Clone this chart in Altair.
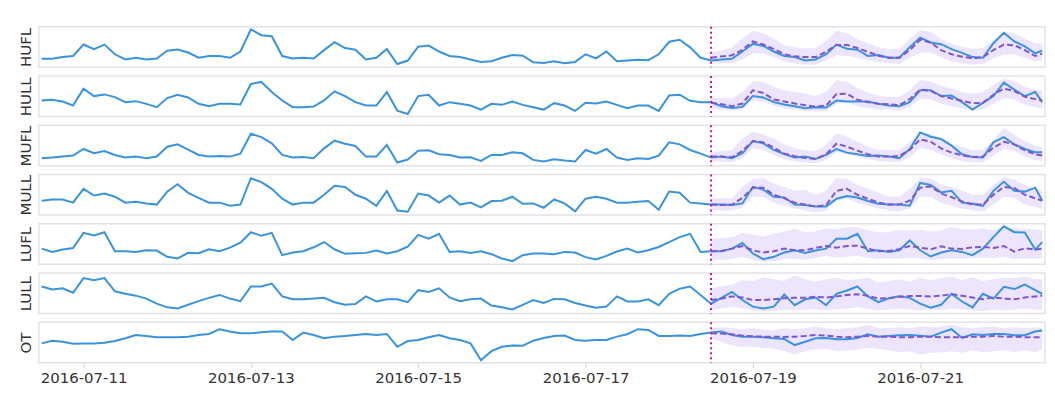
import altair as alt
import pandas as pd

# ---------------- data (unitless) ----------------
NAMES = ["HUFL", "HULL", "MUFL", "MULL", "LUFL", "LULL", "OT"]
START = "2016-07-10 12:00"
ACT_HOURS = list(range(0, 286, 3)) + [287]          # hours after START, observed series
FC_HOURS = [192] + list(range(195, 286, 3)) + [287]  # hours after START, forecast
FC_START_HOUR = 192
TICK_DAYS = [11, 13, 15, 17, 19, 21]                 # July 2016

HUFL = [25, 25, 30, 33, 66, 53, 66, 38, 23, 28, 23, 26, 48, 52, 43, 28,
        33, 33, 28, 46, 110, 93, 90, 33, 26, 28, 26, 50, 73, 56, 51, 23,
        28, 53, 10, 20, 60, 63, 46, 33, 30, 23, 16, 18, 28, 36, 34, 15, 13,
        18, 12, 16, 38, 26, 46, 18, 20, 22, 21, 38, 74, 80, 58, 28, 20,
        23, 25, 46, 68, 62, 46, 33, 30, 20, 23, 38, 66, 54, 51, 33, 36,
        28, 28, 58, 86, 72, 67, 53, 42, 30, 28, 70, 100, 75, 61, 41, 48]
HULL = [50, 52, 47, 35, 85, 63, 68, 60, 45, 48, 40, 30, 57, 67, 59, 40,
        33, 40, 40, 38, 99, 105, 75, 50, 30, 30, 32, 50, 77, 63, 45, 35,
        35, 75, 20, 10, 63, 67, 35, 45, 40, 35, 23, 40, 37, 47, 37, 30, 23,
        42, 35, 19, 43, 41, 47, 37, 27, 35, 35, 19, 65, 67, 49, 45, 45,
        33, 28, 31, 63, 59, 45, 38, 33, 27, 30, 29, 50, 47, 47, 47, 40,
        35, 33, 45, 80, 80, 63, 65, 45, 23, 43, 63, 103, 82, 63, 75, 45]
MUFL = [22, 24, 27, 30, 50, 37, 44, 32, 24, 27, 22, 27, 57, 64, 48, 32,
        27, 29, 27, 36, 96, 86, 67, 32, 24, 26, 22, 52, 75, 66, 59, 27,
        27, 62, 9, 18, 45, 46, 34, 32, 24, 25, 14, 32, 32, 40, 37, 17, 12,
        19, 15, 12, 47, 36, 50, 24, 17, 22, 20, 30, 70, 64, 47, 36, 24,
        27, 22, 37, 74, 67, 47, 35, 24, 27, 20, 32, 50, 39, 34, 29, 30,
        27, 22, 50, 100, 87, 80, 60, 34, 26, 24, 70, 86, 64, 50, 40, 40]
MULL = [43, 46, 46, 38, 73, 56, 61, 53, 38, 40, 36, 33, 66, 85, 63, 50,
        38, 38, 30, 33, 100, 90, 73, 48, 33, 38, 38, 58, 81, 78, 58, 48,
        30, 68, 18, 15, 61, 56, 38, 56, 33, 38, 26, 42, 43, 53, 35, 36, 25,
        46, 36, 16, 48, 53, 48, 38, 38, 40, 42, 20, 66, 63, 38, 36, 33,
        33, 32, 36, 78, 71, 53, 51, 33, 32, 28, 28, 48, 55, 51, 42, 35,
        33, 33, 30, 88, 83, 64, 68, 38, 35, 30, 68, 91, 68, 66, 76, 43]
LUFL = [45, 35, 42, 47, 93, 85, 95, 37, 37, 35, 40, 39, 20, 15, 32, 31,
        43, 37, 48, 63, 95, 84, 93, 25, 33, 37, 49, 65, 43, 29, 31, 32,
        39, 30, 37, 51, 87, 75, 90, 35, 37, 32, 37, 28, 15, 7, 25, 30, 30,
        28, 35, 33, 19, 12, 23, 36, 45, 33, 40, 50, 65, 80, 90, 35, 37,
        37, 45, 62, 30, 13, 20, 33, 40, 32, 39, 45, 75, 75, 90, 37, 40,
        35, 40, 70, 40, 21, 33, 40, 35, 25, 45, 80, 113, 95, 94, 42, 65]
LULL = [77, 69, 72, 60, 100, 94, 100, 64, 57, 52, 44, 30, 20, 17, 27, 37,
        46, 54, 44, 37, 77, 77, 85, 50, 42, 42, 44, 46, 34, 27, 29, 50,
        36, 42, 42, 34, 67, 62, 72, 47, 37, 42, 44, 25, 20, 14, 27, 40, 32,
        43, 42, 32, 25, 19, 22, 50, 36, 36, 42, 26, 57, 71, 77, 54, 30,
        46, 62, 40, 22, 17, 22, 55, 26, 42, 47, 26, 57, 66, 77, 50, 34,
        45, 50, 46, 30, 19, 27, 57, 36, 20, 57, 44, 76, 70, 82, 67, 57]
OT = [58, 66, 63, 57, 58, 58, 60, 65, 73, 83, 80, 76, 76, 76, 78, 83,
      86, 100, 93, 88, 88, 91, 93, 93, 68, 90, 83, 73, 78, 80, 83, 86,
      83, 86, 48, 65, 68, 76, 83, 73, 68, 58, 8, 35, 48, 52, 51, 66, 74,
      80, 81, 68, 66, 68, 68, 78, 85, 100, 98, 80, 80, 81, 80, 86, 90,
      93, 83, 78, 78, 76, 73, 71, 53, 63, 73, 74, 70, 70, 74, 85, 78,
      80, 82, 83, 81, 78, 90, 100, 74, 85, 83, 86, 86, 82, 82, 93, 96]

# forecast: median and band (lower / upper)
HUFL_MEAN = [28, 32, 35, 51, 75, 66, 53, 38, 32, 30, 30, 45, 65, 65, 56, 45, 34,
             28, 28, 50, 80, 72, 50, 38, 31, 26, 30, 50, 66, 64, 50, 33, 40]
HUFL_HI = [43, 48, 58, 83, 105, 98, 83, 63, 58, 55, 56, 76, 106, 98, 81, 70, 58,
           53, 53, 83, 108, 103, 83, 68, 60, 53, 56, 78, 103, 98, 83, 70, 68]
HUFL_LO = [16, 13, 12, 23, 40, 40, 30, 18, 11, 8, 8, 20, 35, 33, 28, 21, 16,
           13, 10, 28, 43, 43, 30, 18, 13, 8, 10, 26, 38, 38, 28, 18, 20]
HULL_MEAN = [43, 39, 33, 41, 80, 72, 53, 47, 41, 36, 31, 35, 69, 70, 52, 45, 40,
             39, 36, 54, 82, 79, 63, 56, 49, 42, 43, 67, 85, 78, 61, 54, 50]
HULL_HI = [57, 57, 55, 75, 107, 105, 90, 80, 75, 70, 63, 75, 110, 105, 87, 73, 65,
           60, 60, 80, 110, 107, 93, 85, 75, 70, 75, 95, 115, 107, 90, 80, 80]
HULL_LO = [27, 23, 20, 23, 50, 47, 35, 27, 23, 19, 17, 19, 40, 43, 33, 27, 23,
           23, 20, 30, 55, 53, 40, 33, 27, 20, 23, 40, 57, 53, 37, 30, 27]
MUFL_MEAN = [27, 27, 25, 44, 74, 70, 54, 36, 28, 23, 20, 34, 66, 57, 45, 34, 27,
             27, 29, 47, 79, 72, 52, 39, 31, 26, 27, 54, 72, 64, 46, 34, 30]
MUFL_HI = [40, 44, 47, 82, 102, 94, 82, 64, 52, 47, 44, 62, 97, 87, 72, 57, 47,
           47, 47, 72, 102, 97, 80, 64, 57, 47, 47, 77, 114, 92, 74, 60, 54]
MUFL_LO = [14, 12, 10, 22, 52, 47, 32, 20, 12, 10, 7, 17, 40, 34, 27, 20, 14,
           12, 10, 24, 54, 47, 34, 22, 14, 10, 10, 30, 50, 44, 27, 17, 14]
MULL_MEAN = [33, 32, 33, 50, 76, 76, 58, 49, 38, 33, 28, 32, 68, 73, 58, 48, 38,
             33, 33, 43, 76, 79, 61, 52, 41, 33, 33, 58, 78, 75, 58, 49, 43]
MULL_HI = [48, 50, 48, 78, 98, 100, 86, 78, 68, 70, 58, 68, 100, 98, 83, 73, 63,
           53, 53, 73, 100, 100, 83, 78, 68, 58, 58, 83, 103, 96, 83, 73, 68]
MULL_LO = [20, 18, 18, 26, 53, 53, 38, 30, 23, 18, 13, 18, 43, 48, 38, 30, 23,
           18, 16, 23, 53, 53, 38, 30, 23, 18, 16, 33, 53, 50, 33, 26, 23]
LUFL_MEAN = [37, 38, 45, 53, 40, 33, 37, 45, 40, 40, 47, 53, 48, 53, 54, 45, 37,
             38, 43, 53, 48, 43, 52, 45, 44, 49, 50, 47, 53, 36, 46, 42, 45]
LUFL_HI = [75, 77, 80, 93, 87, 83, 90, 97, 105, 95, 97, 107, 105, 110, 110, 100, 95,
           95, 103, 100, 103, 97, 100, 110, 105, 103, 107, 100, 113, 107, 105, 103, 100]
LUFL_LO = [13, 10, 13, 20, 10, 5, 7, 13, 13, 11, 17, 23, 17, 20, 23, 17, 13,
           13, 15, 17, 15, 10, 13, 15, 13, 17, 17, 15, 20, 13, 15, 13, 17]
LULL_MEAN = [40, 44, 50, 47, 40, 40, 42, 45, 46, 46, 49, 47, 50, 54, 56, 52, 44,
             45, 49, 51, 51, 50, 52, 56, 52, 47, 42, 47, 44, 42, 47, 50, 52]
LULL_HI = [72, 77, 82, 94, 92, 102, 97, 92, 107, 97, 90, 97, 100, 94, 97, 102, 87,
           92, 97, 90, 102, 94, 100, 104, 94, 102, 92, 97, 102, 100, 104, 97, 97]
LULL_LO = [14, 17, 22, 17, 12, 10, 10, 14, 12, 14, 14, 12, 14, 17, 20, 16, 12,
           14, 17, 14, 12, 14, 12, 17, 14, 12, 10, 14, 12, 14, 17, 14, 12]
OT_MEAN = [88, 87, 85, 81, 79, 78, 78, 77, 78, 80, 83, 81, 78, 76, 78, 80, 78,
           78, 76, 76, 78, 78, 76, 76, 76, 78, 78, 80, 78, 78, 76, 76, 76]
OT_HI = [103, 106, 103, 100, 103, 100, 98, 103, 100, 103, 108, 103, 100, 103, 106, 113, 103,
         103, 106, 103, 108, 106, 108, 113, 106, 103, 106, 108, 103, 106, 103, 106, 103]
OT_LO = [73, 62, 52, 48, 48, 45, 42, 35, 25, 35, 40, 42, 35, 38, 40, 45, 42,
         38, 32, 35, 25, 30, 32, 35, 30, 38, 32, 35, 38, 32, 38, 32, 40]

SERIES = {
    "HUFL": (HUFL, HUFL_MEAN, HUFL_LO, HUFL_HI),
    "HULL": (HULL, HULL_MEAN, HULL_LO, HULL_HI),
    "MUFL": (MUFL, MUFL_MEAN, MUFL_LO, MUFL_HI),
    "MULL": (MULL, MULL_MEAN, MULL_LO, MULL_HI),
    "LUFL": (LUFL, LUFL_MEAN, LUFL_LO, LUFL_HI),
    "LULL": (LULL, LULL_MEAN, LULL_LO, LULL_HI),
    "OT": (OT, OT_MEAN, OT_LO, OT_HI),
}

# ---------------- styling ----------------
BLUE = "#3a93de"
PURPLE = "#7e57d0"
BAND = "#b794f6"
MAGENTA = "#d4168f"
FONT = "DejaVu Sans"
TEXT = "#333333"

t0 = pd.Timestamp(START)
XSCALE = alt.Scale(
    domain=[alt.DateTime(year=2016, month=7, date=10, hours=11, minutes=12),
            alt.DateTime(year=2016, month=7, date=22, hours=11, minutes=48)],
    nice=False)


def panel(name, last):
    actual, mean, lo, hi = SERIES[name]
    dfa = pd.DataFrame({"t": [t0 + pd.Timedelta(hours=h) for h in ACT_HOURS], "v": actual})
    dff = pd.DataFrame({"t": [t0 + pd.Timedelta(hours=h) for h in FC_HOURS],
                        "mean": mean, "lo": lo, "hi": hi})
    dfr = pd.DataFrame({"t": [t0 + pd.Timedelta(hours=FC_START_HOUR)]})

    vmin = min(min(actual), min(lo))
    vmax = max(max(actual), max(hi))
    pad = 0.07 * (vmax - vmin)
    yscale = alt.Scale(domain=[vmin - pad, vmax + pad], nice=False, zero=False)
    yaxis = alt.Axis(title=name, labels=False, ticks=False, domain=False, grid=False,
                     titleFont=FONT, titleFontSize=15, titleFontWeight="normal",
                     titleColor=TEXT, titlePadding=5)
    if last:
        xaxis = alt.Axis(title=None, grid=False, domain=False,
                         values=[alt.DateTime(year=2016, month=7, date=d) for d in TICK_DAYS],
                         format="%Y-%m-%d", labelFont=FONT, labelFontSize=15,
                         labelColor=TEXT, tickSize=5, tickColor="#d0d0d8",
                         labelPadding=3, labelFlush=False)
    else:
        xaxis = None

    X = alt.X("t:T", scale=XSCALE, axis=xaxis)
    band = alt.Chart(dff).mark_area(color=BAND, opacity=0.25).encode(
        x=X, y=alt.Y("lo:Q", scale=yscale, axis=yaxis), y2="hi:Q")
    line = alt.Chart(dfa).mark_line(color=BLUE, strokeWidth=2).encode(
        x=X, y=alt.Y("v:Q", scale=yscale, axis=yaxis))
    meanl = alt.Chart(dff).mark_line(color=PURPLE, strokeWidth=2, strokeDash=[6, 3]).encode(
        x=X, y=alt.Y("mean:Q", scale=yscale, axis=yaxis))
    rule = alt.Chart(dfr).mark_rule(color=MAGENTA, strokeWidth=2, strokeDash=[2, 3]).encode(x=X)
    return alt.layer(band, line, meanl, rule).properties(width=1009, height=40.5)


chart = alt.vconcat(*[panel(n, i == len(NAMES) - 1) for i, n in enumerate(NAMES)],
                    spacing=8.4, bounds="flush").properties(
    padding={"left": 10, "top": 15.3, "right": 0, "bottom": 5}
).configure_view(stroke="#e2e2ea", strokeWidth=1.5)

chart.save("out.html", embed_options={"renderer": "svg", "actions": False})
